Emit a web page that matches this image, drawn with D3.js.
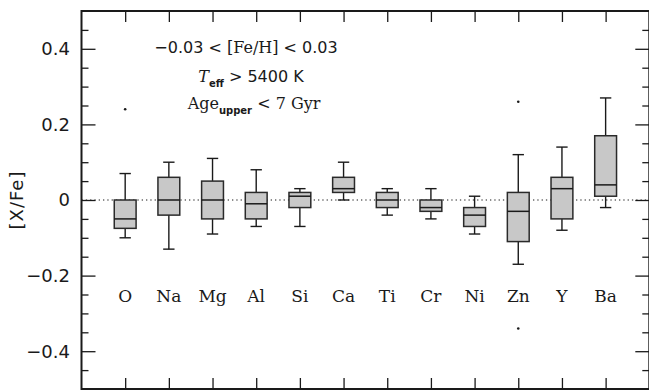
<!DOCTYPE html>
<html><head><meta charset="utf-8">
<script src="https://cdn.jsdelivr.net/npm/d3@7"></script>
<style>
html,body{margin:0;padding:0;background:#fff;}
svg{display:block;}
</style></head>
<body>
<svg id="chart" width="649" height="390"></svg>
<script>
const elements = ["O","Na","Mg","Al","Si","Ca","Ti","Cr","Ni","Zn","Y","Ba"];
const whiskerLow  = [-0.10,-0.13,-0.09,-0.07,-0.07, 0.00,-0.04,-0.05,-0.09,-0.17,-0.08,-0.02];
const q1          = [-0.075,-0.04,-0.05,-0.05,-0.02,0.02,-0.02,-0.03,-0.07,-0.11,-0.05, 0.01];
const median      = [-0.05, 0.00, 0.00,-0.01, 0.01, 0.03, 0.00,-0.02,-0.04,-0.03, 0.03, 0.04];
const q3          = [ 0.00, 0.06, 0.05, 0.02, 0.02, 0.06, 0.02, 0.00,-0.02, 0.02, 0.06, 0.17];
const whiskerHigh = [ 0.07, 0.10, 0.11, 0.08, 0.03, 0.10, 0.03, 0.03, 0.01, 0.12, 0.14, 0.27];
const outlierElements = ["O","Zn","Zn"];
const outlierValues   = [0.24, 0.26, -0.34];
const yMajorTicks = [-0.4,-0.2,0,0.2,0.4];
const yTickLabels = ["−0.4","−0.2","0","0.2","0.4"];

(function () {
const svg = d3.select("#chart");
const mLeft = 81.5, mRight = 649.3, mTop = 11, mBottom = 389;
const x = d3.scaleLinear().domain([0, 13]).range([mLeft, mRight]);
const y = d3.scaleLinear().domain([-0.5, 0.5]).range([mBottom, mTop]);
const pos = e => x(elements.indexOf(e) + 1);

const ink = "#1a1a1a";
const sans = "'DejaVu Sans', sans-serif";
const serif = "'DejaVu Serif', serif";

const minorTicks = d3.range(-9, 10).map(i => +(i * 0.05).toFixed(2)).filter(v => !yMajorTicks.some(m => Math.abs(m - v) < 1e-9));

function styleAxis(g) {
  g.select(".domain").remove();
  g.selectAll(".tick line").attr("stroke", ink).attr("stroke-width", 1.3);
}
svg.append("g").attr("transform", `translate(${mLeft},0)`)
  .call(d3.axisRight(y).tickValues(yMajorTicks).tickSize(14).tickFormat(""))
  .call(styleAxis);
svg.append("g").attr("transform", `translate(${mLeft},0)`)
  .call(d3.axisRight(y).tickValues(minorTicks).tickSize(7).tickFormat(""))
  .call(styleAxis);
svg.append("g").attr("transform", `translate(${mRight},0)`)
  .call(d3.axisLeft(y).tickValues(yMajorTicks).tickSize(14).tickFormat(""))
  .call(styleAxis);
svg.append("g").attr("transform", `translate(${mRight},0)`)
  .call(d3.axisLeft(y).tickValues(minorTicks).tickSize(7).tickFormat(""))
  .call(styleAxis);
const catIdx = d3.range(1, 13);
svg.append("g").attr("transform", `translate(0,${mTop})`)
  .call(d3.axisBottom(x).tickValues(catIdx).tickSize(11).tickFormat(""))
  .call(styleAxis);
svg.append("g").attr("transform", `translate(0,${mBottom})`)
  .call(d3.axisTop(x).tickValues(catIdx).tickSize(11).tickFormat(""))
  .call(styleAxis);

svg.append("g").selectAll("text").data(yMajorTicks).join("text")
  .attr("x", 70).attr("y", d => y(d)).attr("dy", "0.36em")
  .attr("text-anchor", "end")
  .attr("font-family", sans).attr("font-size", 18).attr("fill", ink)
  .text((d, i) => yTickLabels[i]);

svg.append("line")
  .attr("x1", mLeft).attr("x2", mRight).attr("y1", y(0)).attr("y2", y(0))
  .attr("stroke", ink).attr("stroke-width", 1.2).attr("stroke-dasharray", "1.3,3");

const bw = 0.25, cw = 0.13;
const g = svg.append("g");
elements.forEach((e, i) => {
  const cx = i + 1;
  const grp = g.append("g");
  grp.append("line").attr("x1", x(cx)).attr("x2", x(cx)).attr("y1", y(q3[i])).attr("y2", y(whiskerHigh[i]))
    .attr("stroke", ink).attr("stroke-width", 1.4);
  grp.append("line").attr("x1", x(cx)).attr("x2", x(cx)).attr("y1", y(q1[i])).attr("y2", y(whiskerLow[i]))
    .attr("stroke", ink).attr("stroke-width", 1.4);
  grp.append("line").attr("x1", x(cx - cw)).attr("x2", x(cx + cw)).attr("y1", y(whiskerHigh[i])).attr("y2", y(whiskerHigh[i]))
    .attr("stroke", ink).attr("stroke-width", 1.4);
  grp.append("line").attr("x1", x(cx - cw)).attr("x2", x(cx + cw)).attr("y1", y(whiskerLow[i])).attr("y2", y(whiskerLow[i]))
    .attr("stroke", ink).attr("stroke-width", 1.4);
  grp.append("rect").attr("x", x(cx - bw)).attr("width", x(cx + bw) - x(cx - bw))
    .attr("y", y(q3[i])).attr("height", Math.max(0.5, y(q1[i]) - y(q3[i])))
    .attr("fill", "#c8c8c8").attr("stroke", "#2a2a2a").attr("stroke-width", 1.5);
  grp.append("line").attr("x1", x(cx - bw)).attr("x2", x(cx + bw)).attr("y1", y(median[i])).attr("y2", y(median[i]))
    .attr("stroke", ink).attr("stroke-width", 1.5);
});

svg.append("g").selectAll("circle").data(outlierValues).join("circle")
  .attr("cx", (d, i) => pos(outlierElements[i])).attr("cy", d => y(d)).attr("r", 1.3).attr("fill", ink);

svg.append("g").selectAll("text").data(elements).join("text")
  .attr("x", (d, i) => x(i + 1)).attr("y", y(-0.27))
  .attr("text-anchor", "middle").attr("font-family", serif).attr("font-size", 17).attr("fill", ink)
  .text(d => d);

svg.append("rect").attr("x", mLeft).attr("y", mTop).attr("width", mRight - mLeft).attr("height", mBottom - mTop)
  .attr("fill", "none").attr("stroke", ink).attr("stroke-width", 2);

svg.append("text").attr("transform", `translate(23,200) rotate(-90)`)
  .attr("text-anchor", "middle").attr("font-family", sans).attr("font-size", 18).attr("letter-spacing", 1).attr("fill", ink)
  .text("[X/Fe]");

const a1 = svg.append("text").attr("x", 246).attr("y", 52.5).attr("text-anchor", "middle").attr("font-size", 16).attr("fill", ink);
a1.append("tspan").attr("font-family", sans).text("−0.03 < ");
a1.append("tspan").attr("font-family", serif).text("[Fe/H]");
a1.append("tspan").attr("font-family", sans).text(" < 0.03");

const a2 = svg.append("text").attr("x", 251).attr("y", 82).attr("text-anchor", "middle").attr("font-size", 16).attr("fill", ink);
a2.append("tspan").attr("font-family", serif).attr("font-style", "italic").text("T");
a2.append("tspan").attr("font-family", sans).attr("font-weight", "bold").attr("font-size", 10).attr("dy", 5).text("eff");
a2.append("tspan").attr("font-family", sans).attr("dy", -5).text(" > 5400 K");

const a3 = svg.append("text").attr("x", 254).attr("y", 109).attr("text-anchor", "middle").attr("font-size", 16).attr("fill", ink);
a3.append("tspan").attr("font-family", serif).text("Age");
a3.append("tspan").attr("font-family", sans).attr("font-weight", "bold").attr("font-size", 10).attr("dy", 5).text("upper");
a3.append("tspan").attr("font-family", serif).attr("dy", -5).text(" < 7 Gyr");
})();
</script>
</body></html>
